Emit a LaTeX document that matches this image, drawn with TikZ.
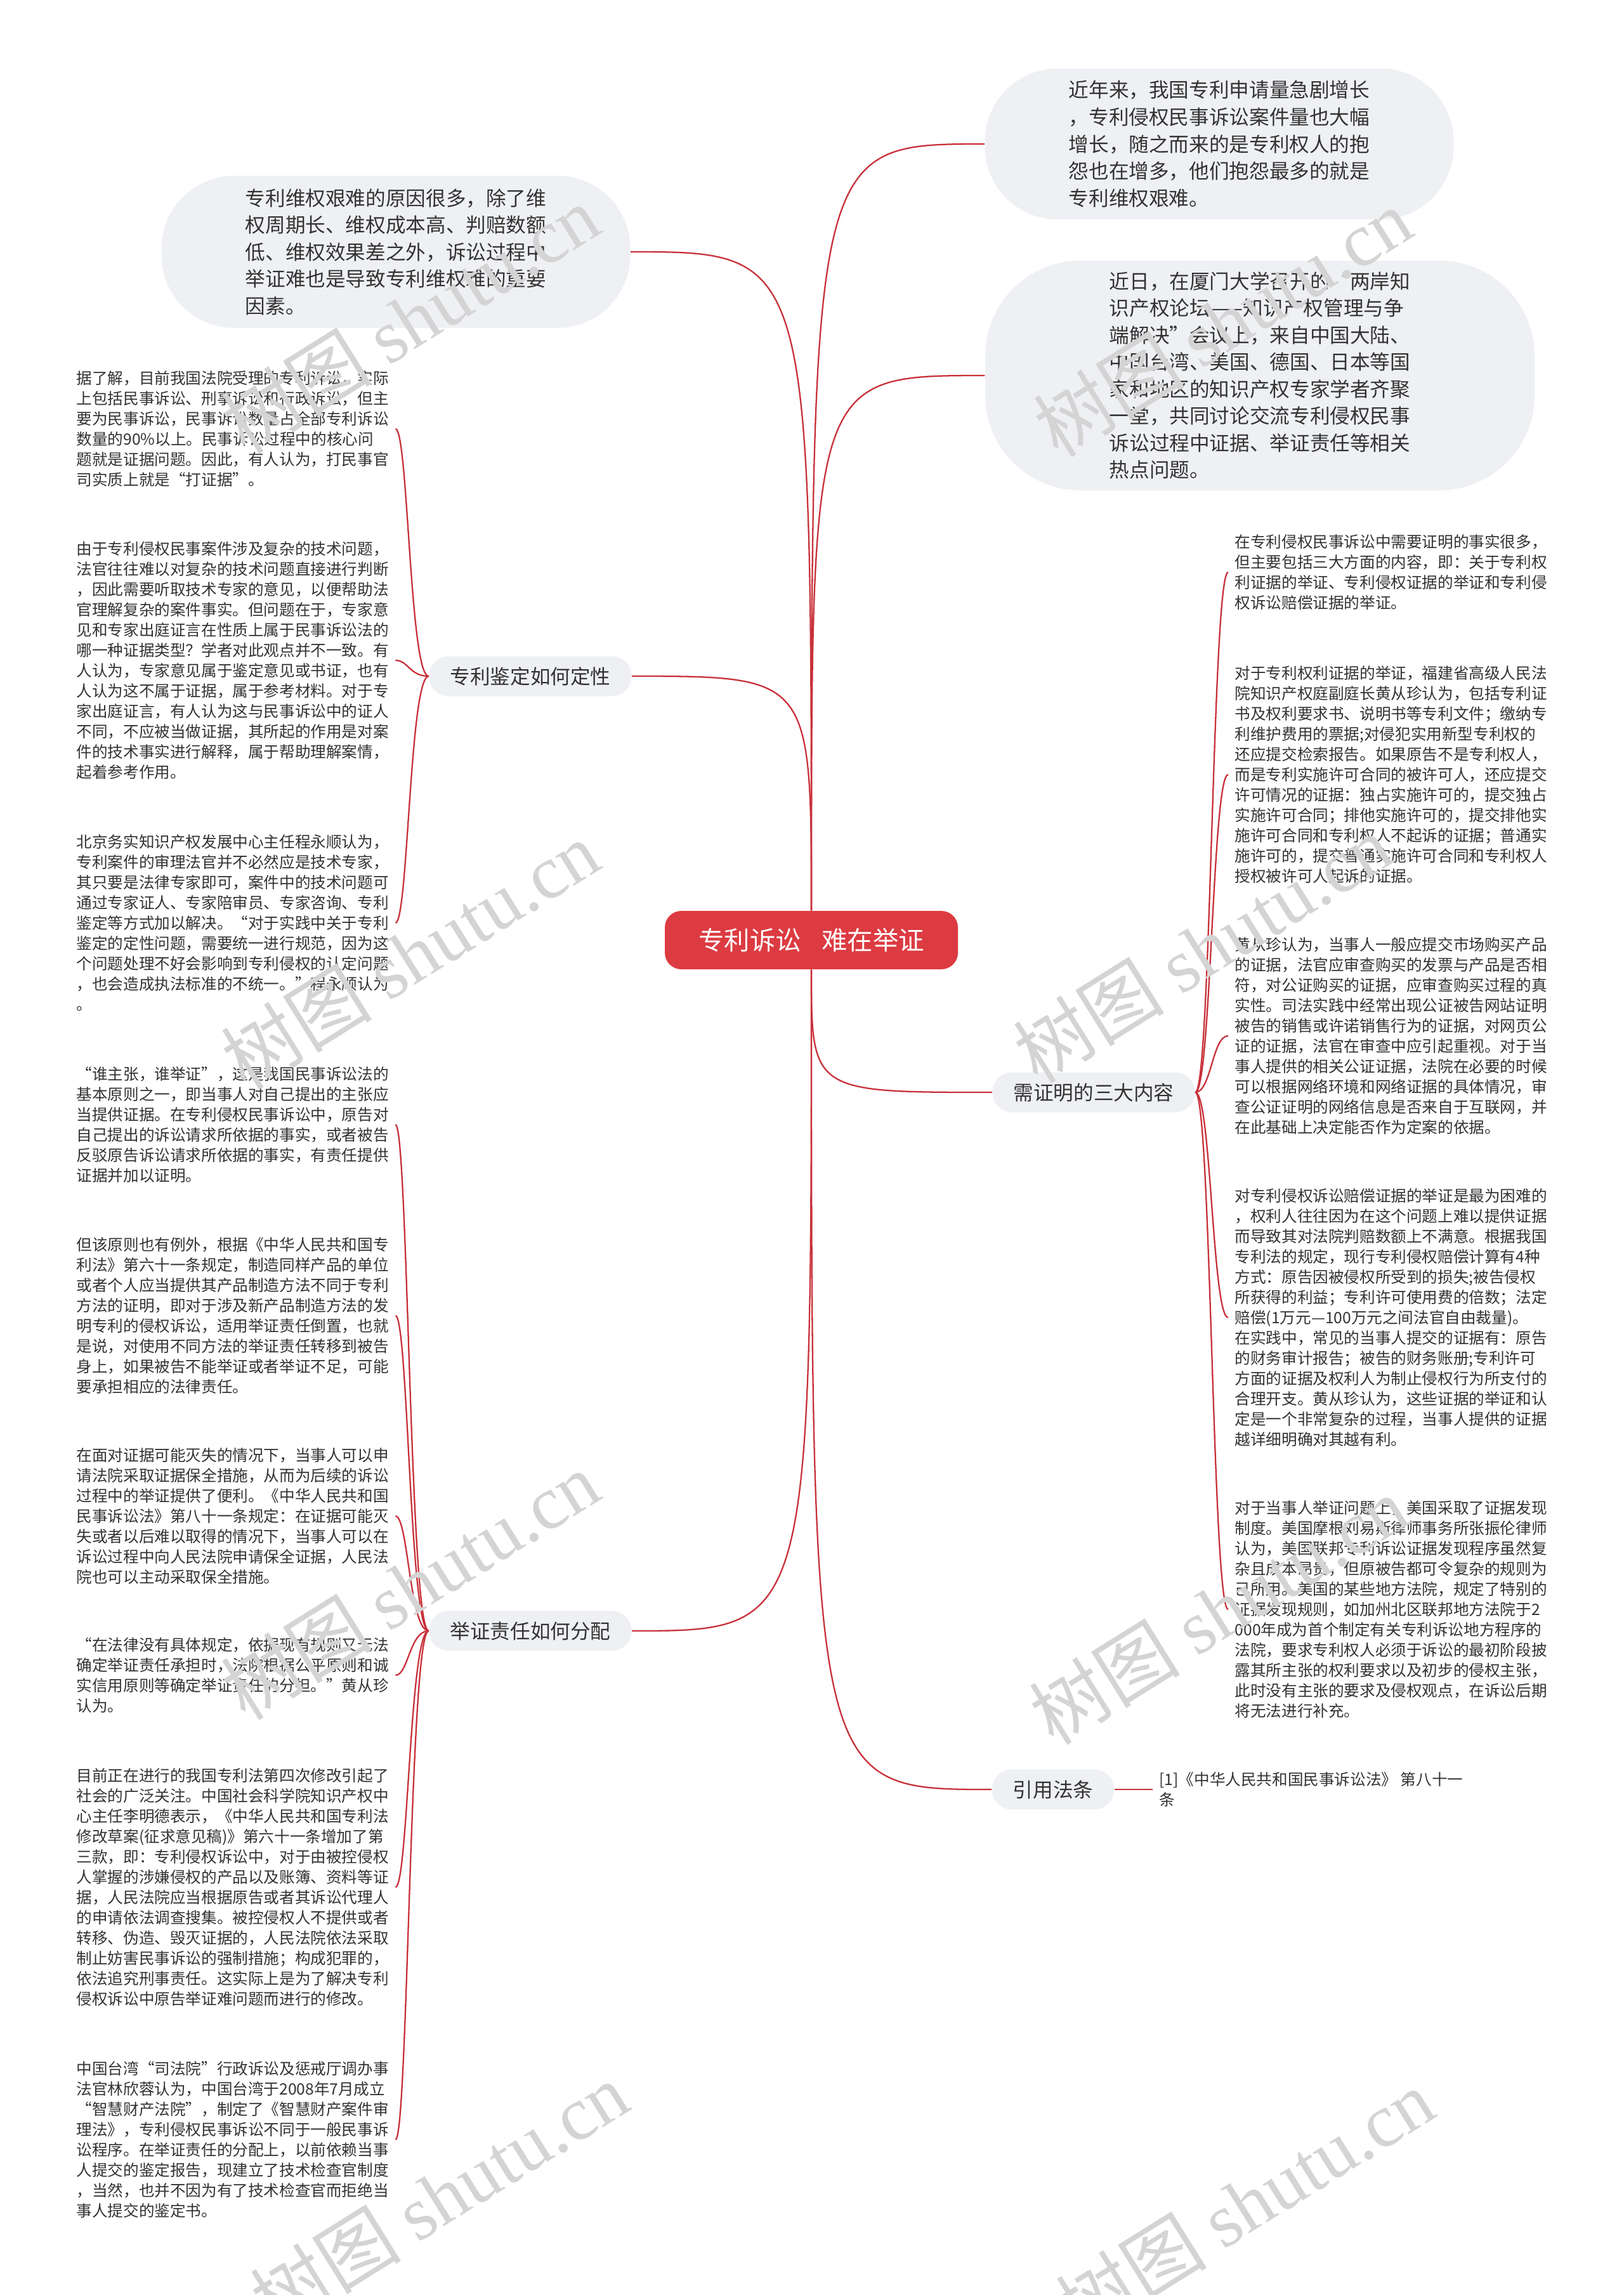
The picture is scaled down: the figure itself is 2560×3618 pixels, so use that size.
\documentclass[tikz,border=0pt]{standalone}
\usepackage{fontspec}
\setmainfont{Noto Sans CJK SC}
\newfontfamily\wmfont{Liberation Serif}
\definecolor{linkred}{HTML}{C8313A}
\definecolor{rootred}{HTML}{DC3B41}
\definecolor{paleblue}{HTML}{EEF0F3}
\definecolor{inkgray}{HTML}{333333}
\usetikzlibrary{positioning}

\begin{document}
\begin{tikzpicture}[
    x=0.1mm, y=-0.1mm,
    root/.style={rectangle, rounded corners=2.6mm, fill=rootred, text=white,
                 minimum width=46.2mm, minimum height=9.2mm,
                 font=\fontsize{11.5}{14}\selectfont},
    bubble/.style={rectangle, fill=paleblue, text=inkgray, align=left,
                   font=\fontsize{9}{12.1}\selectfont},
    branch/.style={rectangle, rounded corners=3.1mm, fill=paleblue, text=inkgray,
                   minimum height=6.3mm, inner xsep=3.3mm,
                   font=\fontsize{9}{11}\selectfont},
    leaf/.style={inner xsep=1mm, inner ysep=0pt, align=left, text=inkgray,
                 font=\fontsize{7}{9.1}\selectfont},
    link/.style={linkred, line width=0.65pt},
    wmark/.style={rotate=32, text=black!17, font=\fontsize{34}{34}\selectfont}
  ]
  \fill[white] (0,0) rectangle (2560,3618);
  \useasboundingbox (0,0) rectangle (2560,3618);

  % centre and main branches
  \node[root] (root) at (1279,1482) {专利诉讼\hspace{.8em}难在举证};

  \node[bubble, rounded corners=11.5mm, minimum width=73.9mm, minimum height=23.8mm]
    (tr1) at (1922,227) {近年来，我国专利申请量急剧增长\\
    ，专利侵权民事诉讼案件量也大幅\\
    增长，随之而来的是专利权人的抱\\
    怨也在增多，他们抱怨最多的就是\\
    专利维权艰难。};
  \node[bubble, rounded corners=15mm, minimum width=86.6mm, minimum height=36.2mm]
    (tr2) at (1986,592) {近日，在厦门大学召开的“两岸知\\
    识产权论坛——知识产权管理与争\\
    端解决”会议上，来自中国大陆、\\
    中国台湾、美国、德国、日本等国\\
    家和地区的知识产权专家学者齐聚\\
    一堂，共同讨论交流专利侵权民事\\
    诉讼过程中证据、举证责任等相关\\
    热点问题。};
  \node[bubble, rounded corners=11.5mm, minimum width=73.9mm, minimum height=24mm]
    (tl) at (624,397) {专利维权艰难的原因很多，除了维\\
    权周期长、维权成本高、判赔数额\\
    低、维权效果差之外，诉讼过程中\\
    举证难也是导致专利维权难的重要\\
    因素。};

  \node[branch] (bjd) at (836,1066) {专利鉴定如何定性};
  \node[branch] (bzz) at (836,2571) {举证责任如何分配};
  \node[branch] (bxz) at (1724,1722) {需证明的三大内容};
  \node[branch] (byf) at (1660,2821) {引用法条};

  % left notes
  \node[leaf, anchor=west] (l1) at (110,676) {据了解，目前我国法院受理的专利诉讼，实际\\
    上包括民事诉讼、刑事诉讼和行政诉讼，但主\\
    要为民事诉讼，民事诉讼数量占全部专利诉讼\\
    数量的90\%以上。民事诉讼过程中的核心问\\
    题就是证据问题。因此，有人认为，打民事官\\
    司实质上就是“打证据”。};
  \node[leaf, anchor=west] (l2) at (110,1041) {由于专利侵权民事案件涉及复杂的技术问题，\\
    法官往往难以对复杂的技术问题直接进行判断\\
    ，因此需要听取技术专家的意见，以便帮助法\\
    官理解复杂的案件事实。但问题在于，专家意\\
    见和专家出庭证言在性质上属于民事诉讼法的\\
    哪一种证据类型？学者对此观点并不一致。有\\
    人认为，专家意见属于鉴定意见或书证，也有\\
    人认为这不属于证据，属于参考材料。对于专\\
    家出庭证言，有人认为这与民事诉讼中的证人\\
    不同，不应被当做证据，其所起的作用是对案\\
    件的技术事实进行解释，属于帮助理解案情，\\
    起着参考作用。};
  \node[leaf, anchor=west] (l3) at (110,1455) {北京务实知识产权发展中心主任程永顺认为，\\
    专利案件的审理法官并不必然应是技术专家，\\
    其只要是法律专家即可，案件中的技术问题可\\
    通过专家证人、专家陪审员、专家咨询、专利\\
    鉴定等方式加以解决。“对于实践中关于专利\\
    鉴定的定性问题，需要统一进行规范，因为这\\
    个问题处理不好会影响到专利侵权的认定问题\\
    ，也会造成执法标准的不统一。”程永顺认为\\
    。};
  \node[leaf, anchor=west] (l4) at (110,1773) {“谁主张，谁举证”，这是我国民事诉讼法的\\
    基本原则之一，即当事人对自己提出的主张应\\
    当提供证据。在专利侵权民事诉讼中，原告对\\
    自己提出的诉讼请求所依据的事实，或者被告\\
    反驳原告诉讼请求所依据的事实，有责任提供\\
    证据并加以证明。};
  \node[leaf, anchor=west] (l5) at (110,2074) {但该原则也有例外，根据《中华人民共和国专\\
    利法》第六十一条规定，制造同样产品的单位\\
    或者个人应当提供其产品制造方法不同于专利\\
    方法的证明，即对于涉及新产品制造方法的发\\
    明专利的侵权诉讼，适用举证责任倒置，也就\\
    是说，对使用不同方法的举证责任转移到被告\\
    身上，如果被告不能举证或者举证不足，可能\\
    要承担相应的法律责任。};
  \node[leaf, anchor=west] (l6) at (110,2390) {在面对证据可能灭失的情况下，当事人可以申\\
    请法院采取证据保全措施，从而为后续的诉讼\\
    过程中的举证提供了便利。《中华人民共和国\\
    民事诉讼法》第八十一条规定：在证据可能灭\\
    失或者以后难以取得的情况下，当事人可以在\\
    诉讼过程中向人民法院申请保全证据，人民法\\
    院也可以主动采取保全措施。};
  \node[leaf, anchor=west] (l7) at (110,2641) {“在法律没有具体规定，依据现有规则又无法\\
    确定举证责任承担时，法院根据公平原则和诚\\
    实信用原则等确定举证责任的分担。”黄从珍\\
    认为。};
  \node[leaf, anchor=west] (l8) at (110,2975) {目前正在进行的我国专利法第四次修改引起了\\
    社会的广泛关注。中国社会科学院知识产权中\\
    心主任李明德表示，《中华人民共和国专利法\\
    修改草案(征求意见稿)》第六十一条增加了第\\
    三款，即：专利侵权诉讼中，对于由被控侵权\\
    人掌握的涉嫌侵权的产品以及账簿、资料等证\\
    据，人民法院应当根据原告或者其诉讼代理人\\
    的申请依法调查搜集。被控侵权人不提供或者\\
    转移、伪造、毁灭证据的，人民法院依法采取\\
    制止妨害民事诉讼的强制措施；构成犯罪的，\\
    依法追究刑事责任。这实际上是为了解决专利\\
    侵权诉讼中原告举证难问题而进行的修改。};
  \node[leaf, anchor=west] (l9) at (110,3373) {中国台湾“司法院”行政诉讼及惩戒厅调办事\\
    法官林欣蓉认为，中国台湾于2008年7月成立\\
    “智慧财产法院”，制定了《智慧财产案件审\\
    理法》，专利侵权民事诉讼不同于一般民事诉\\
    讼程序。在举证责任的分配上，以前依赖当事\\
    人提交的鉴定报告，现建立了技术检查官制度\\
    ，当然，也并不因为有了技术检查官而拒绝当\\
    事人提交的鉴定书。};

  % right notes
  \node[leaf, anchor=west] (r1) at (1936,902) {在专利侵权民事诉讼中需要证明的事实很多，\\
    但主要包括三大方面的内容，即：关于专利权\\
    利证据的举证、专利侵权证据的举证和专利侵\\
    权诉讼赔偿证据的举证。};
  \node[leaf, anchor=west] (r2) at (1936,1221) {对于专利权利证据的举证，福建省高级人民法\\
    院知识产权庭副庭长黄从珍认为，包括专利证\\
    书及权利要求书、说明书等专利文件；缴纳专\\
    利维护费用的票据;对侵犯实用新型专利权的\\
    还应提交检索报告。如果原告不是专利权人，\\
    而是专利实施许可合同的被许可人，还应提交\\
    许可情况的证据：独占实施许可的，提交独占\\
    实施许可合同；排他实施许可的，提交排他实\\
    施许可合同和专利权人不起诉的证据；普通实\\
    施许可的，提交普通实施许可合同和专利权人\\
    授权被许可人起诉的证据。};
  \node[leaf, anchor=west] (r3) at (1936,1633) {黄从珍认为，当事人一般应提交市场购买产品\\
    的证据，法官应审查购买的发票与产品是否相\\
    符，对公证购买的证据，应审查购买过程的真\\
    实性。司法实践中经常出现公证被告网站证明\\
    被告的销售或许诺销售行为的证据，对网页公\\
    证的证据，法官在审查中应引起重视。对于当\\
    事人提供的相关公证证据，法院在必要的时候\\
    可以根据网络环境和网络证据的具体情况，审\\
    查公证证明的网络信息是否来自于互联网，并\\
    在此基础上决定能否作为定案的依据。};
  \node[leaf, anchor=west] (r4) at (1936,2077) {对专利侵权诉讼赔偿证据的举证是最为困难的\\
    ，权利人往往因为在这个问题上难以提供证据\\
    而导致其对法院判赔数额上不满意。根据我国\\
    专利法的规定，现行专利侵权赔偿计算有4种\\
    方式：原告因被侵权所受到的损失;被告侵权\\
    所获得的利益；专利许可使用费的倍数；法定\\
    赔偿(1万元—100万元之间法官自由裁量)。\\
    在实践中，常见的当事人提交的证据有：原告\\
    的财务审计报告；被告的财务账册;专利许可\\
    方面的证据及权利人为制止侵权行为所支付的\\
    合理开支。黄从珍认为，这些证据的举证和认\\
    定是一个非常复杂的过程，当事人提供的证据\\
    越详细明确对其越有利。};
  \node[leaf, anchor=west] (r5) at (1936,2537) {对于当事人举证问题上，美国采取了证据发现\\
    制度。美国摩根刘易斯律师事务所张振伦律师\\
    认为，美国联邦专利诉讼证据发现程序虽然复\\
    杂且成本昂贵，但原被告都可令复杂的规则为\\
    己所用。美国的某些地方法院，规定了特别的\\
    证据发现规则，如加州北区联邦地方法院于2\\
    000年成为首个制定有关专利诉讼地方程序的\\
    法院，要求专利权人必须于诉讼的最初阶段披\\
    露其所主张的权利要求以及初步的侵权主张，\\
    此时没有主张的要求及侵权观点，在诉讼后期\\
    将无法进行补充。};
  \node[leaf, right=6mm of byf] (cite) {[1]《中华人民共和国民事诉讼法》 第八十一\\条};

  % root links
  \draw[link] (root.north) .. controls (root.north |- tr1.west) .. (tr1.west);
  \draw[link] (root.north) .. controls (root.north |- tr2.west) .. (tr2.west);
  \draw[link] (root.north) .. controls (root.north |- tl.east) .. (tl.east);
  \draw[link] (root.north) .. controls (root.north |- bjd.east) .. (bjd.east);
  \draw[link] (root.south) .. controls (root.south |- bxz.west) .. (bxz.west);
  \draw[link] (root.south) .. controls (root.south |- bzz.east) .. (bzz.east);
  \draw[link] (root.south) .. controls (root.south |- byf.west) .. (byf.west);

  % branch links
  \foreach \k in {l1,l2,l3}
    \draw[link] (bjd.west) .. controls +(-30,0) and +(20,0) .. (\k.east);
  \foreach \k in {l4,l5,l6,l7,l8,l9}
    \draw[link] (bzz.west) .. controls +(-30,0) and +(20,0) .. (\k.east);
  \foreach \k in {r1,r2,r3,r4,r5}
    \draw[link] (bxz.east) .. controls +(25,0) and +(-25,0) .. (\k.west);
  \draw[link] (byf) -- (cite);

  % watermarks
  \foreach \wx/\wy in {646/503, 1927/508, 646/1505, 1895/1495,
                       646/2499, 1920/2538, 692/3462, 1962/3473}
    \node[wmark] at (\wx,\wy) {树图 {\wmfont shutu.cn}};
\end{tikzpicture}
\end{document}
